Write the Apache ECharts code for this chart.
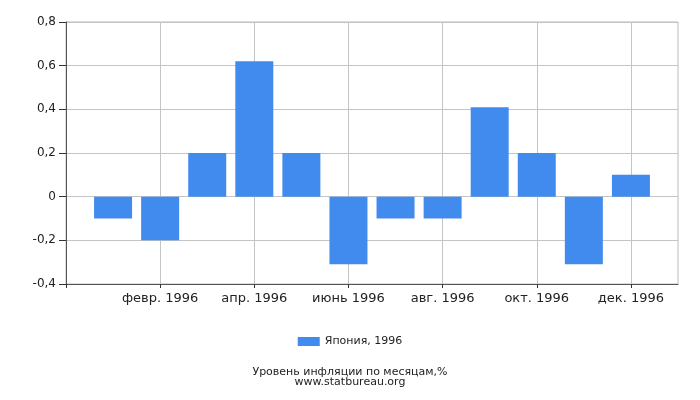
<!DOCTYPE html>
<html>
<head>
	<meta charset="utf-8">
	<title>inflation</title>
	<script src="https://cdn.jsdelivr.net/npm/echarts@6/dist/echarts.min.js"></script>
</head>
<body style="margin:0">
	<div id="main" style="height: 400px; width: 700px;"></div>
	<script type="text/javascript">
		var months = ['янв. 1996', 'февр. 1996', 'март 1996', 'апр. 1996', 'май 1996', 'июнь 1996',
			'июль 1996', 'авг. 1996', 'сент. 1996', 'окт. 1996', 'нояб. 1996', 'дек. 1996'];
		var values = [-0.1, -0.2, 0.2, 0.62, 0.2, -0.31, -0.1, -0.1, 0.41, 0.2, -0.31, 0.1];
		var seriesName = 'Япония, 1996';

		// empty slot on each side so the months sit like the original
		var cats = [''].concat(months, ['']);
		var vals = [null].concat(values, [null]);

		var myChart = echarts.init(document.getElementById('main'));
		var option = {
			textStyle: { fontFamily: 'DejaVu Sans' },
			title: {
				text: 'Уровень инфляции по месяцам,%\nwww.statbureau.org',
				left: 'center',
				top: 362,
				textStyle: { fontSize: 11, fontWeight: 'normal', color: '#222', lineHeight: 10, fontFamily: 'DejaVu Sans' }
			},
			legend: {
				data: [seriesName],
				left: 'center',
				top: 331,
				icon: 'rect',
				itemWidth: 22,
				itemHeight: 9,
				itemGap: 6,
				textStyle: { fontSize: 11, color: '#222', fontFamily: 'DejaVu Sans' }
			},
			grid: {
				left: 66,
				right: 22,
				top: 22,
				bottom: 116,
				show: true,
				borderColor: '#bbb',
				borderWidth: 1
			},
			xAxis: {
				type: 'category',
				data: cats,
				boundaryGap: false,
				axisLine: { onZero: false, lineStyle: { color: '#555' } },
				axisTick: { interval: 1, length: 4, lineStyle: { color: '#333' } },
				axisLabel: { interval: 1, color: '#222', fontSize: 13, margin: 8 },
				splitLine: { show: true, interval: 1, lineStyle: { color: '#c4c4c4' } }
			},
			yAxis: {
				type: 'value',
				min: -0.4,
				max: 0.8,
				interval: 0.2,
				axisLine: { show: true, lineStyle: { color: '#555' } },
				axisTick: { show: true, length: 7, lineStyle: { color: '#333' } },
				axisLabel: {
					color: '#222', fontSize: 12, margin: 10,
					formatter: function (v) { return String(Math.round(v * 10) / 10).replace('.', ','); }
				},
				splitLine: { lineStyle: { color: '#c4c4c4' } }
			},
			series: [{
				name: seriesName,
				type: 'bar',
				data: vals,
				barWidth: 38,
				itemStyle: { color: '#428bee' }
			}]
		};
		myChart.setOption(option);
	</script>
</body>
</html>
